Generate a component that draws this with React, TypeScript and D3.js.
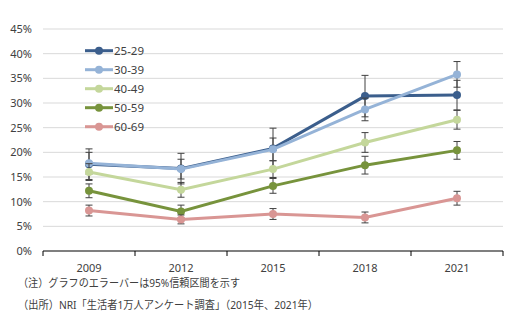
import React from "react";
import * as d3 from "d3";

const years = ["2009", "2012", "2015", "2018", "2021"];
const seriesNames = ["25-29", "30-39", "40-49", "50-59", "60-69"];
const seriesColors = ["#3B5E8C", "#95B3D7", "#C4D79B", "#77933C", "#D99694"];
const v2529 = [17.6, 16.7, 20.8, 31.4, 31.6];
const v3039 = [17.8, 16.6, 20.6, 28.7, 35.8];
const v4049 = [16.0, 12.4, 16.6, 22.0, 26.6];
const v5059 = [12.2, 8.0, 13.2, 17.4, 20.4];
const v6069 = [8.2, 6.4, 7.5, 6.8, 10.7];
const e2529 = [3.1, 3.1, 4.1, 4.2, 3.0];
const e3039 = [2.2, 2.0, 2.3, 2.3, 2.6];
const e4049 = [1.7, 1.5, 1.7, 2.0, 1.9];
const e5059 = [1.4, 1.3, 1.5, 1.8, 1.8];
const e6069 = [1.1, 0.9, 1.1, 1.1, 1.4];
const yTicks = [0, 5, 10, 15, 20, 25, 30, 35, 40, 45];
const note1 = "（注）グラフのエラーバーは95%信頼区間を示す";
const note2 = "（出所）NRI「生活者1万人アンケート調査」（2015年、2021年）";

const values = [v2529, v3039, v4049, v5059, v6069];
const errors = [e2529, e3039, e4049, e5059, e6069];

export default function App() {
  const left = 43, right = 503, top = 29, bottom = 251;
  const x = d3.scaleBand<string>().domain(years).range([left, right]);
  const y = d3.scaleLinear().domain([0, 45]).range([bottom, top]);
  const cx = (yr: string) => (x(yr) as number) + x.bandwidth() / 2;
  const line = d3
    .line<number>()
    .x((_, i) => cx(years[i]))
    .y((d) => y(d));
  const font = "'Noto Sans', 'Noto Sans CJK JP', sans-serif";
  const boundaries = [...years.map((yr) => x(yr) as number), right];

  return (
    <svg
      width={510}
      height={322}
      style={{ position: "absolute", left: 0, top: 0, background: "#fff" }}
      fontFamily={font}
    >
      {yTicks.map((t) => (
        <g key={t}>
          {t > 0 && (
            <line x1={left} x2={right} y1={y(t)} y2={y(t)} stroke="#D9D9D9" strokeWidth={1} />
          )}
          <text x={32} y={y(t)} dy="0.35em" textAnchor="end" fontSize={11} fill="#404040">
            {t}%
          </text>
        </g>
      ))}
      <line x1={left} x2={right} y1={bottom} y2={bottom} stroke="#000" strokeWidth={1.2} />
      {boundaries.map((b, i) => (
        <line key={i} x1={b} x2={b} y1={bottom} y2={bottom + 5} stroke="#000" strokeWidth={1} />
      ))}
      {years.map((yr) => (
        <text key={yr} x={cx(yr)} y={272} textAnchor="middle" fontSize={11} fill="#404040">
          {yr}
        </text>
      ))}
      {values.map((vals, si) => (
        <g key={si}>
          {vals.map((v, i) => {
            const e = errors[si][i];
            const px = cx(years[i]);
            return (
              <g key={i} stroke="#404040" strokeWidth={1}>
                <line x1={px} x2={px} y1={y(v + e)} y2={y(v - e)} />
                <line x1={px - 3.5} x2={px + 3.5} y1={y(v + e)} y2={y(v + e)} />
                <line x1={px - 3.5} x2={px + 3.5} y1={y(v - e)} y2={y(v - e)} />
              </g>
            );
          })}
          <path d={line(vals) || ""} fill="none" stroke={seriesColors[si]} strokeWidth={3} />
          {vals.map((v, i) => (
            <circle key={i} cx={cx(years[i])} cy={y(v)} r={4} fill={seriesColors[si]} />
          ))}
        </g>
      ))}
      {seriesNames.map((n, i) => {
        const ly = 50.7 + i * 19;
        return (
          <g key={n}>
            <line x1={85} x2={113} y1={ly} y2={ly} stroke={seriesColors[i]} strokeWidth={3} />
            <circle cx={99} cy={ly} r={4} fill={seriesColors[i]} />
            <text x={114} y={ly} dy="0.35em" fontSize={11.5} fill="#404040">
              {n}
            </text>
          </g>
        );
      })}
      <text x={18} y={283} dy="0.35em" fontSize={11} fill="#404040" textLength={222} lengthAdjust="spacingAndGlyphs">
        {note1}
      </text>
      <text x={18} y={305} dy="0.35em" fontSize={11} fill="#404040" textLength={300} lengthAdjust="spacingAndGlyphs">
        {note2}
      </text>
    </svg>
  );
}
